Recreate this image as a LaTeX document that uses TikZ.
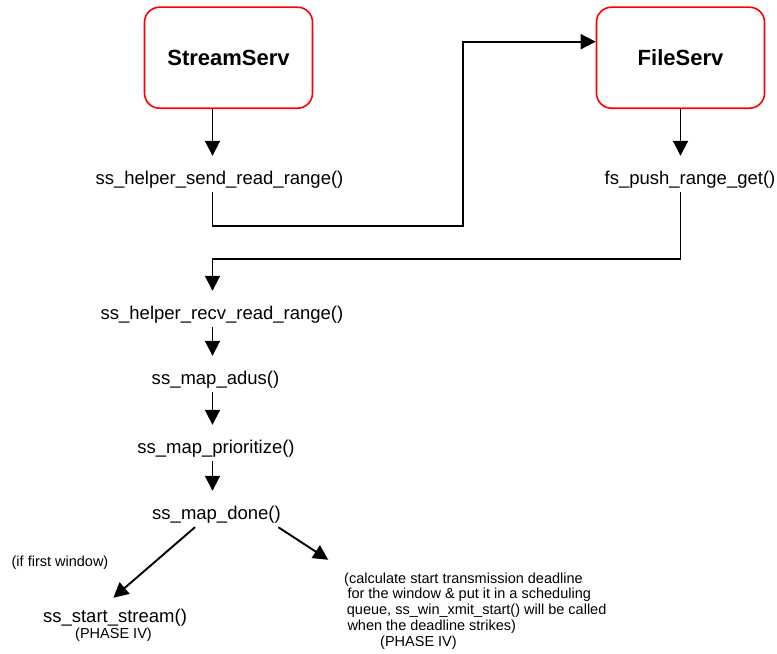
\documentclass[tikz,border=0pt]{standalone}
\usepackage{fontspec}
\setmainfont{Liberation Sans}
\usetikzlibrary{arrows.meta}
\begin{document}
\begin{tikzpicture}[x=1bp,y=-1bp,
  server/.style={draw=red, line width=1.6bp, rounded corners=15bp,
    minimum width=168bp, minimum height=101bp, inner sep=0pt,
    font=\fontsize{22bp}{26bp}\selectfont\bfseries},
  fn/.style={inner sep=0pt, anchor=base, text height=28.6bp, text depth=7.4bp,
    font=\fontsize{18.5bp}{22bp}\selectfont},
  note/.style={inner sep=0pt, anchor=base, font=\fontsize{14.5bp}{15.75bp}\selectfont},
  flow/.style={line width=1.9bp, -{Triangle[length=15bp,width=15bp]}}]
\useasboundingbox (0,0) rectangle (777,654);

% servers
\node[server] (sv)  at (228.5,57.7) {StreamServ};
\node[server] (fsv) at (680.5,57.7) {FileServ};

% call chain
\coordinate (spine) at (212.5,0);
\node[fn] (send) at (219.5,184.6) {ss\_helper\_send\_read\_range()};
\node[fn] (push) at (690,184.6)   {fs\_push\_range\_get()};
\node[fn] (recv) at (222,319.6)   {ss\_helper\_recv\_read\_range()};
\node[fn] (adus) at (215.5,384.6) {ss\_map\_adus()};
\node[fn] (prio) at (216,453.6)   {ss\_map\_prioritize()};
\node[fn] (done) at (216.5,519.6) {ss\_map\_done()};
\node[fn, text depth=3.5bp] (sst) at (115,622.6) {ss\_start\_stream()};

% notes
\node[note] (ph1)   at (113.5,638.2) {(PHASE IV)};
\node[note] (first) at (60,566)      {(if first window)};
\node[note, anchor=base west] (calc) at (344,583) {\parbox[t]{300bp}{%
(calculate start transmission deadline\\
\hspace*{3.3bp}for the window \& put it in a scheduling\\
\hspace*{2.7bp}queue, ss\_win\_xmit\_start() will be called\\
\hspace*{3.3bp}when the deadline strikes)\\
\hspace*{36bp}(PHASE IV)}};

% connectors
\coordinate (up)   at (462.7,225.7);
\coordinate (back) at (212.5,259);
\draw[flow] (sv.south -| spine) -- (send.north -| spine);
\draw[flow] (send.south -| spine) |- (up) |- ([yshift=16bp]fsv.west);
\draw[flow] (fsv.south) -- (push.north -| fsv.south);
\draw[flow] (push.south -| fsv.south) |- (back) -- (recv.north -| spine);
\draw[flow] (recv.south -| spine) -- (adus.north -| spine);
\draw[flow] (adus.south -| spine) -- (prio.north -| spine);
\draw[flow] (prio.south -| spine) -- (done.north -| spine);
\draw[flow] ([xshift=-21.5bp]done.south) -- ([shift={(-1.7bp,-4bp)}]sst.north);
\draw[flow] ([xshift=61.8bp]done.south) -- ([shift={(-15.7bp,12.5bp)}]calc.north west);
\end{tikzpicture}
\end{document}
